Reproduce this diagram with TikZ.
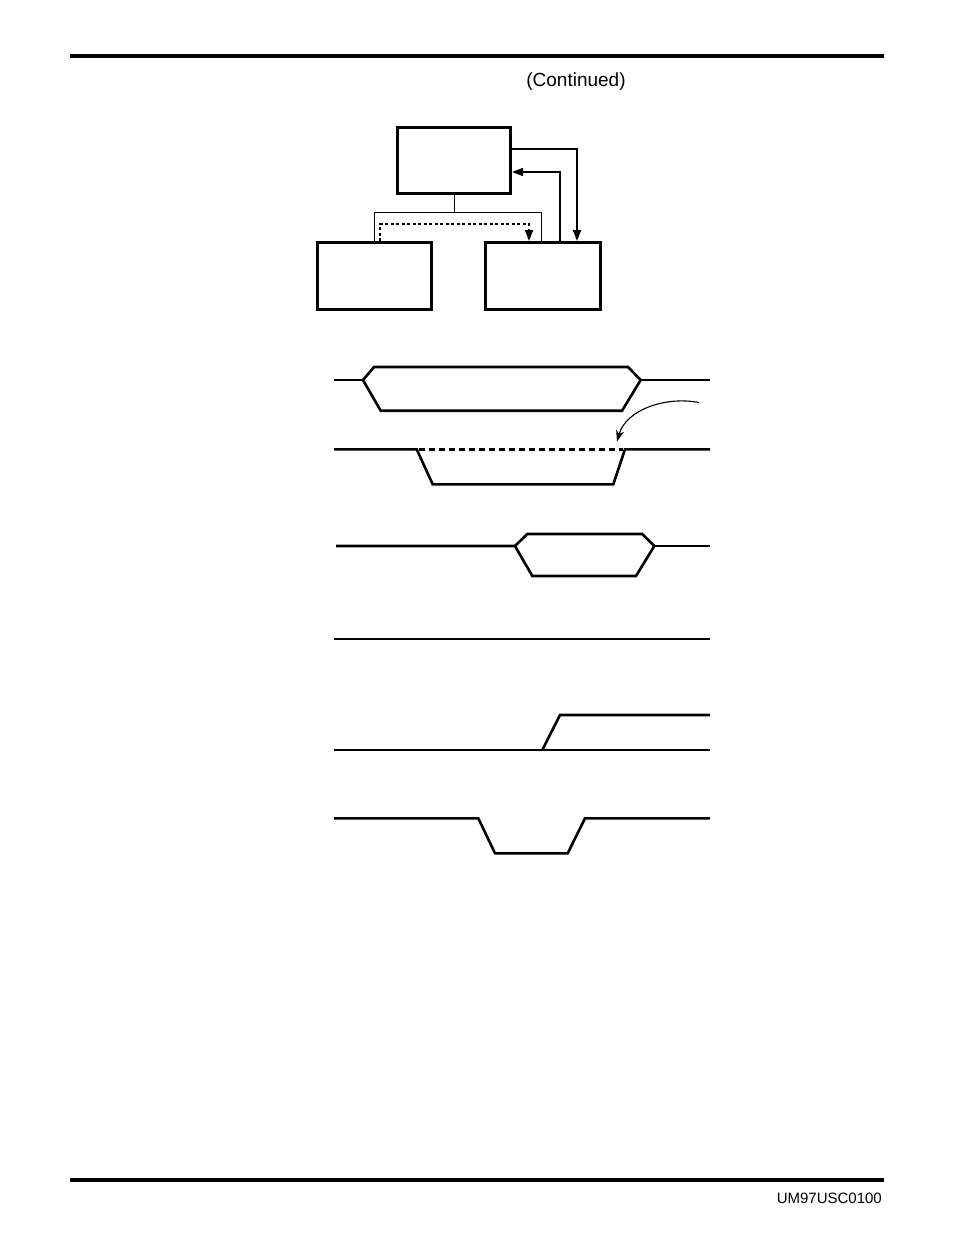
\documentclass[tikz,border=0pt]{standalone}
\usepackage{fontspec}
\setmainfont{Liberation Sans}
\usetikzlibrary{arrows.meta}
\begin{document}
\begin{tikzpicture}[x=1pt,y=-1pt,
  blk/.style={draw,line width=3pt,inner sep=0pt,minimum width=#1,minimum height=67pt},
  bus/.style={line width=1pt},
  ctl/.style={line width=1.6pt,-{Triangle[length=11pt,width=8pt]}},
  dotl/.style={line width=1.8pt,dash pattern=on 3pt off 2.5pt,-{Triangle[length=11pt,width=8pt]}},
  sig/.style={line width=2.6pt,line join=miter},
  rule/.style={line width=4pt},
  lbl/.style={inner sep=0pt,font=\fontsize{#1}{#1}\selectfont}]
\useasboundingbox (0,0) rectangle (954,1235);
% page rules and texts
\coordinate (r1a) at (70,56);   \coordinate (r1b) at (884,56);
\coordinate (r2a) at (70,1179.5); \coordinate (r2b) at (884,1179.5);
\draw[rule] (r1a) -- (r1b);
\draw[rule] (r2a) -- (r2b);
\node[lbl=19pt] (cont) at (576,82) {(Continued)};
\node[lbl=15pt,anchor=east] (code) at (882,1198) {UM97USC0100};
% block diagram
\node[blk=113pt,minimum height=66pt] (T) at (454,160.5) {};
\node[blk=114pt] (L) at (374.5,276) {};
\node[blk=115pt] (R) at (543,276) {};
\coordinate (b0) at (454,212);
\coordinate (bl) at (374.5,212);
\coordinate (br) at (541.5,212);
\draw[bus] (T.south) -- (b0);
\draw[bus] (L.north -| bl) -- (bl) -- (br) -- (R.north -| br);
\coordinate (d1) at (380,224);
\coordinate (d2) at (529,224);
\draw[dotl] (L.north -| d1) -- (d1) -- (d2) -- (R.north -| d2);
\coordinate (a1) at (577,149);
\coordinate (a2) at (560,172);
\draw[ctl] (T.east |- a1) -- (a1) -- (R.north -| a1);
\draw[ctl] (R.north -| a2) -- (a2) -- (T.east |- a2);
% signal 1
\draw[sig,line width=2pt] (334,380) -- (363,380);
\draw[sig] (363,380) -- (374,367) -- (628,367) -- (640.7,380) -- (622,410.7) -- (380.7,410.7) -- cycle;
\draw[sig] (640.7,380) -- (710,380);
% curved arrow
\coordinate (c1) at (699,402.5);
\coordinate (c2) at (617,441.5);
\draw[line width=1.1pt,-{Stealth[length=11pt,width=8pt,inset=3pt]}] (c1) .. controls (665,396) and (626,410) .. (c2);
% signal 2
\draw[sig] (334,449.3) -- (416.7,449.3) -- (432.7,484.3) -- (613.3,484.3) -- (625,449.3) -- (710,449.3);
\draw[sig,dash pattern=on 6pt off 4pt] (419,449.3) -- (623,449.3);
% signal 3
\draw[sig] (336,546) -- (515,546) -- (527.3,534) -- (642.3,534) -- (654.3,546) -- (636,576) -- (532.3,576) -- (515,546);
\draw[sig] (654.3,546) -- (710,546);
% signal 4
\draw[sig] (334,639) -- (710,639);
% signal 5
\draw[sig] (334,750) -- (710,750);
\draw[sig] (542.3,750) -- (560,715) -- (710,715);
% signal 6
\draw[sig] (334,818.3) -- (478.3,818.3) -- (495,853.3) -- (567.7,853.3) -- (585,818.3) -- (710,818.3);
\end{tikzpicture}
\end{document}
